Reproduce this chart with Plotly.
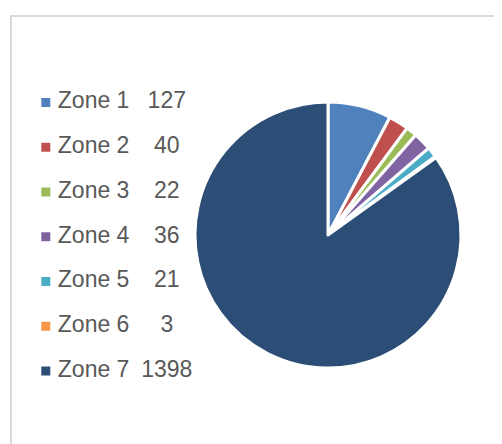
import plotly.graph_objects as go

zones = ["Zone 1", "Zone 2", "Zone 3", "Zone 4", "Zone 5", "Zone 6", "Zone 7"]
values = [127, 40, 22, 36, 21, 3, 1398]
colors = ["#4F81BD", "#C0504D", "#9BBB59", "#8064A2", "#4BACC6", "#F79646", "#2C4D75"]

FONT = "Liberation Sans, Arial, sans-serif"
TXT = "#595959"
W, H = 502, 444
OFF = 8  # page body margin offset

fig = go.Figure()

fig.add_trace(go.Pie(
    labels=zones, values=values, sort=False, direction="clockwise", rotation=0,
    marker=dict(colors=colors, line=dict(color="white", width=3)),
    textinfo="none", hoverinfo="label+value", showlegend=False,
    domain=dict(x=[(195 - OFF) / W, (461 - OFF) / W], y=[1 - (368 - OFF) / H, 1 - (102 - OFF) / H]),
))

# legend drawn as scatter columns (swatch, label, value)
SWATCH_X, LABEL_X, VALUE_X = 0, 12, 121
n = len(zones)
fig.add_trace(go.Scatter(
    x=[SWATCH_X] * n, y=zones, mode="markers",
    marker=dict(symbol="square", size=9, color=colors, line=dict(width=0)),
    xaxis="x2", yaxis="y2", showlegend=False, hoverinfo="skip",
))
fig.add_trace(go.Scatter(
    x=[LABEL_X] * n, y=zones, mode="text", text=zones, textposition="middle right",
    textfont=dict(family=FONT, size=23, color=TXT),
    xaxis="x2", yaxis="y2", showlegend=False, hoverinfo="skip",
))
fig.add_trace(go.Scatter(
    x=[VALUE_X] * n, y=zones, mode="text", text=[str(v) for v in values],
    textposition="middle center",
    textfont=dict(family=FONT, size=23, color=TXT),
    xaxis="x2", yaxis="y2", showlegend=False, hoverinfo="skip",
))

row = 44.75
top = 101 - OFF + 1.5
lo = -top / row
hi = lo + H / row
x0 = 45.8 - OFF

fig.update_layout(
    width=W, height=H, margin=dict(l=0, r=0, t=0, b=0),
    paper_bgcolor="white", plot_bgcolor="rgba(0,0,0,0)",
    xaxis2=dict(domain=[0, 1], range=[-x0, W - x0], visible=False, fixedrange=True),
    yaxis2=dict(domain=[0, 1], type="category", categoryorder="array", categoryarray=zones,
                range=[hi, lo], visible=False, fixedrange=True, anchor="x2"),
    shapes=[dict(type="rect", xref="paper", yref="paper",
                 x0=(11 - OFF) / W, x1=1.05, y0=-0.1, y1=1 - (16 - OFF) / H,
                 line=dict(color="#D9D9D9", width=2), fillcolor="rgba(0,0,0,0)", layer="below")],
    font=dict(family=FONT, color=TXT),
)

fig.write_html("out.html")
